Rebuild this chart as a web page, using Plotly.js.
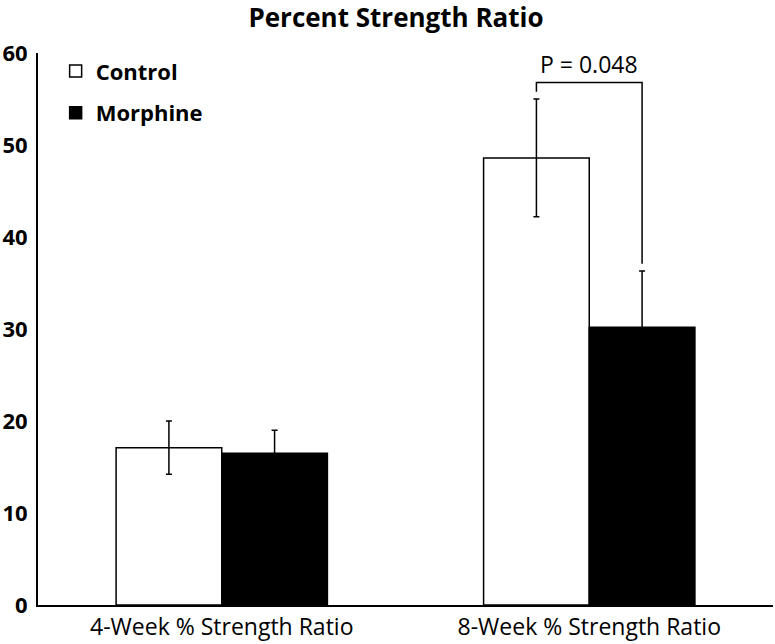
<!DOCTYPE html>
<html>
<head>
<meta charset="utf-8">
<script src="https://cdn.plot.ly/plotly-3.0.1.min.js"></script>
<style>html,body{margin:0;padding:0;background:#fff;}#chart{width:775px;height:644px;}</style>
</head>
<body>
<div id="chart"></div>
<script>
const categories = ["4-Week % Strength Ratio", "8-Week % Strength Ratio"];
const controlValues = [17.1, 48.6];
const controlErrors = [2.9, 6.4];
const morphineValues = [16.5, 30.2];
const morphineErrors = [2.5, 6.1];
const pLabel = "P = 0.048";
const yTicks = [0, 10, 20, 30, 40, 50, 60];

const FONT = "'Open Sans', sans-serif";
const BARGAP = 0.425;
const barWidthCat = (1 - BARGAP) / 2;
const off = barWidthCat / 2;

const errStyle = {type: "data", visible: true, color: "#000", thickness: 1.5, width: 3};

const control = {
  type: "bar",
  name: "Control",
  x: categories,
  y: controlValues,
  legendgroup: "a",
  marker: {color: "#ffffff", line: {color: "#000", width: 1.5}},
  error_y: Object.assign({}, errStyle, {array: controlErrors})
};
const morphine = {
  type: "bar",
  name: "Morphine",
  x: categories,
  y: morphineValues,
  legendgroup: "b",
  marker: {color: "#000000", line: {color: "#000", width: 1.5}},
  error_y: Object.assign({}, errStyle, {array: morphineErrors})
};

// significance bracket over 8-week group (index 1)
const gi = 1;
const leftTop = controlValues[gi] + controlErrors[gi];
const rightTop = morphineValues[gi] + morphineErrors[gi];
const bracketY = leftTop + 1.8;
const bracketPath = `M ${gi - off} ${leftTop + 0.8} L ${gi - off} ${bracketY} L ${gi + off} ${bracketY} L ${gi + off} ${rightTop + 0.8}`;

const layout = {
  width: 775, height: 644,
  margin: {l: 38, r: 2, t: 53, b: 39},
  paper_bgcolor: "#fff", plot_bgcolor: "#fff",
  font: {family: FONT, color: "#000"},
  title: {
    text: "<b>Percent Strength Ratio</b>",
    font: {family: FONT, size: 26, color: "#000"},
    x: 396 / 775, xref: "container", xanchor: "center",
    y: 1 - 18 / 644, yref: "container", yanchor: "middle"
  },
  barmode: "group",
  bargap: BARGAP,
  bargroupgap: 0,
  showlegend: true,
  legend: {
    x: 0.024, y: 1.005, xanchor: "left", yanchor: "top",
    font: {family: FONT, size: 22, color: "#000", weight: "bold"},
    bgcolor: "rgba(0,0,0,0)", tracegroupgap: 10, traceorder: "grouped"
  },
  xaxis: {
    type: "category",
    showline: true, linecolor: "#000", linewidth: 2,
    ticks: "", showgrid: false, zeroline: false,
    tickfont: {family: FONT, size: 23, color: "#000"},
    range: [-0.5, 1.5]
  },
  yaxis: {
    range: [0, 60],
    tickvals: yTicks,
    ticktext: yTicks.map(v => "<b>" + v + "</b>"),
    showline: true, linecolor: "#000", linewidth: 2,
    ticks: "", showgrid: false, zeroline: false,
    tickfont: {family: FONT, size: 22, color: "#000"},
    ticklabelstandoff: 4
  },
  shapes: [{
    type: "path", xref: "x", yref: "y", path: bracketPath,
    line: {color: "#000", width: 1.5}
  }],
  annotations: [{
    text: pLabel, xref: "x", yref: "y", x: gi, y: bracketY,
    yanchor: "bottom", showarrow: false, yshift: 0,
    font: {family: FONT, size: 23, color: "#000"}
  }]
};

Plotly.newPlot("chart", [control, morphine], layout, {displayModeBar: false, staticPlot: true});
</script>
</body>
</html>
